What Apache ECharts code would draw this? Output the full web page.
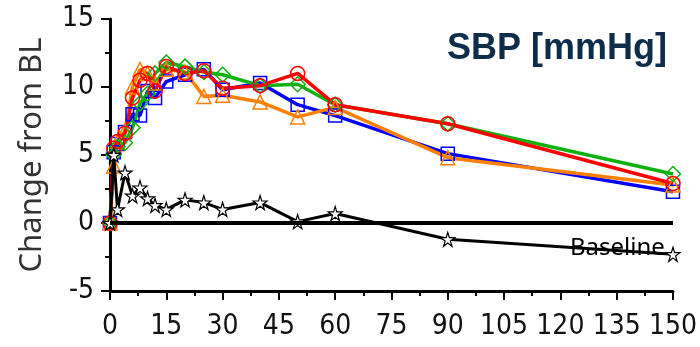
<!DOCTYPE html>
<html>
<head>
<meta charset="utf-8">
<script src="https://cdn.jsdelivr.net/npm/echarts@6/dist/echarts.min.js"></script>
<style>html,body{margin:0;padding:0;background:#fff}#c{width:700px;height:347px}</style>
</head>
<body>
<div id="c"></div>
<script>
const times = [0, 1, 2, 4, 6, 8, 10, 12, 15, 20, 25, 30, 40, 50, 60, 90, 150];
const blueVals   = [0, 5.2, 5.8, 6.7, 8.0, 7.9, 9.7, 9.2, 10.4, 10.9, 11.3, 9.8, 10.3, 8.7, 7.9, 5.1, 2.3];
const orangeVals = [0, 4.2, 6.0, 6.8, 10.0, 11.3, 11.0, 10.3, 11.3, 11.1, 9.3, 9.4, 8.9, 7.8, 8.5, 4.8, 2.8];
const greenVals  = [0, 5.0, 5.6, 5.9, 7.0, 8.8, 9.5, 11.0, 11.8, 11.5, 11.1, 10.9, 10.1, 10.2, 8.7, 7.3, 3.6];
const redVals    = [0, 5.5, 6.0, 6.6, 9.2, 10.5, 11.0, 9.7, 11.5, 11.0, 11.2, 9.9, 10.1, 11.0, 8.7, 7.3, 2.9];
const baselineVals = [0, 5.0, 1.0, 3.7, 2.0, 2.6, 1.8, 1.3, 1.0, 1.7, 1.5, 1.0, 1.5, 0.1, 0.7, -1.2, -2.3];
const xTicks = [0, 15, 30, 45, 60, 75, 90, 105, 120, 135, 150];
const yTicks = [-5, 0, 5, 10, 15];
const titleText = 'SBP [mmHg]';
const yName = 'Change from BL';
const baselineLabel = 'Baseline';

const pair = (vals) => times.map((t, i) => [t, vals[i]]);
const star = 'path://M50,0 L61,35 L98,35 L68,57 L79,91 L50,70 L21,91 L32,57 L2,35 L39,35 Z';
const tickFont = '"Liberation Sans Narrow", "DejaVu Sans Condensed", sans-serif';

function colored(vals, color, symbol, size) {
  return {
    type: 'line', data: pair(vals), symbol: symbol, symbolSize: size,
    lineStyle: { color: color, width: 3.5 },
    itemStyle: { color: 'rgba(255,255,255,0)', borderColor: color, borderWidth: 1.5 },
    showAllSymbol: true, animation: false, z: 3
  };
}

const chart = echarts.init(document.getElementById('c'));
chart.setOption({
  animation: false,
  grid: { left: 110, right: 25, top: 19, bottom: 56 },
  xAxis: {
    type: 'value', min: 0, max: 150, interval: 15,
    axisLine: { show: true, onZero: false, lineStyle: { color: '#000', width: 3 } },
    axisTick: { show: true, length: 9, lineStyle: { color: '#000', width: 2 } },
    minorTick: { show: true, splitNumber: 2, length: 5, lineStyle: { color: '#000', width: 2 } },
    splitLine: { show: false },
    axisLabel: { fontSize: 28, color: '#111', margin: 22, fontFamily: tickFont,
      formatter: v => xTicks.includes(v) ? String(v) : '' }
  },
  yAxis: {
    type: 'value', min: -5, max: 15, interval: 5,
    name: yName, nameLocation: 'middle', nameGap: 62,
    nameTextStyle: { fontSize: 31, color: '#333', fontFamily: '"Noto Sans", sans-serif' },
    axisLine: { show: true, onZero: false, lineStyle: { color: '#000', width: 3 } },
    axisTick: { show: true, length: 9, lineStyle: { color: '#000', width: 2 } },
    minorTick: { show: true, splitNumber: 2, length: 5, lineStyle: { color: '#000', width: 2 } },
    splitLine: { show: false },
    axisLabel: { fontSize: 28, color: '#111', margin: 16, fontFamily: tickFont,
      formatter: v => yTicks.includes(v) ? String(v) : '' }
  },
  graphic: [
    { type: 'text', right: 33, top: 31, style: { text: titleText, fill: '#0d2d4a',
      font: 'bold 36px "Liberation Sans", Arial, sans-serif' } },
    { type: 'text', left: 570, top: 236, style: { text: baselineLabel, fill: '#000',
      font: '24px "Noto Sans", sans-serif' } }
  ],
  series: [
    colored(blueVals, '#0000ff', 'rect', 13),
    colored(orangeVals, '#ff8000', 'triangle', 14),
    colored(greenVals, '#10b010', 'diamond', 15),
    colored(redVals, '#ff0000', 'circle', 14),
    {
      type: 'line', data: pair(baselineVals), symbol: star, symbolSize: 14,
      lineStyle: { color: '#000', width: 3 },
      itemStyle: { color: '#fff', borderColor: '#000', borderWidth: 1.2 },
      showAllSymbol: true, z: 4,
      markLine: { silent: true, symbol: 'none', label: { show: false },
        lineStyle: { color: '#000', width: 4, type: 'solid' },
        data: [{ yAxis: 0 }] }
    }
  ]
});
</script>
</body>
</html>
